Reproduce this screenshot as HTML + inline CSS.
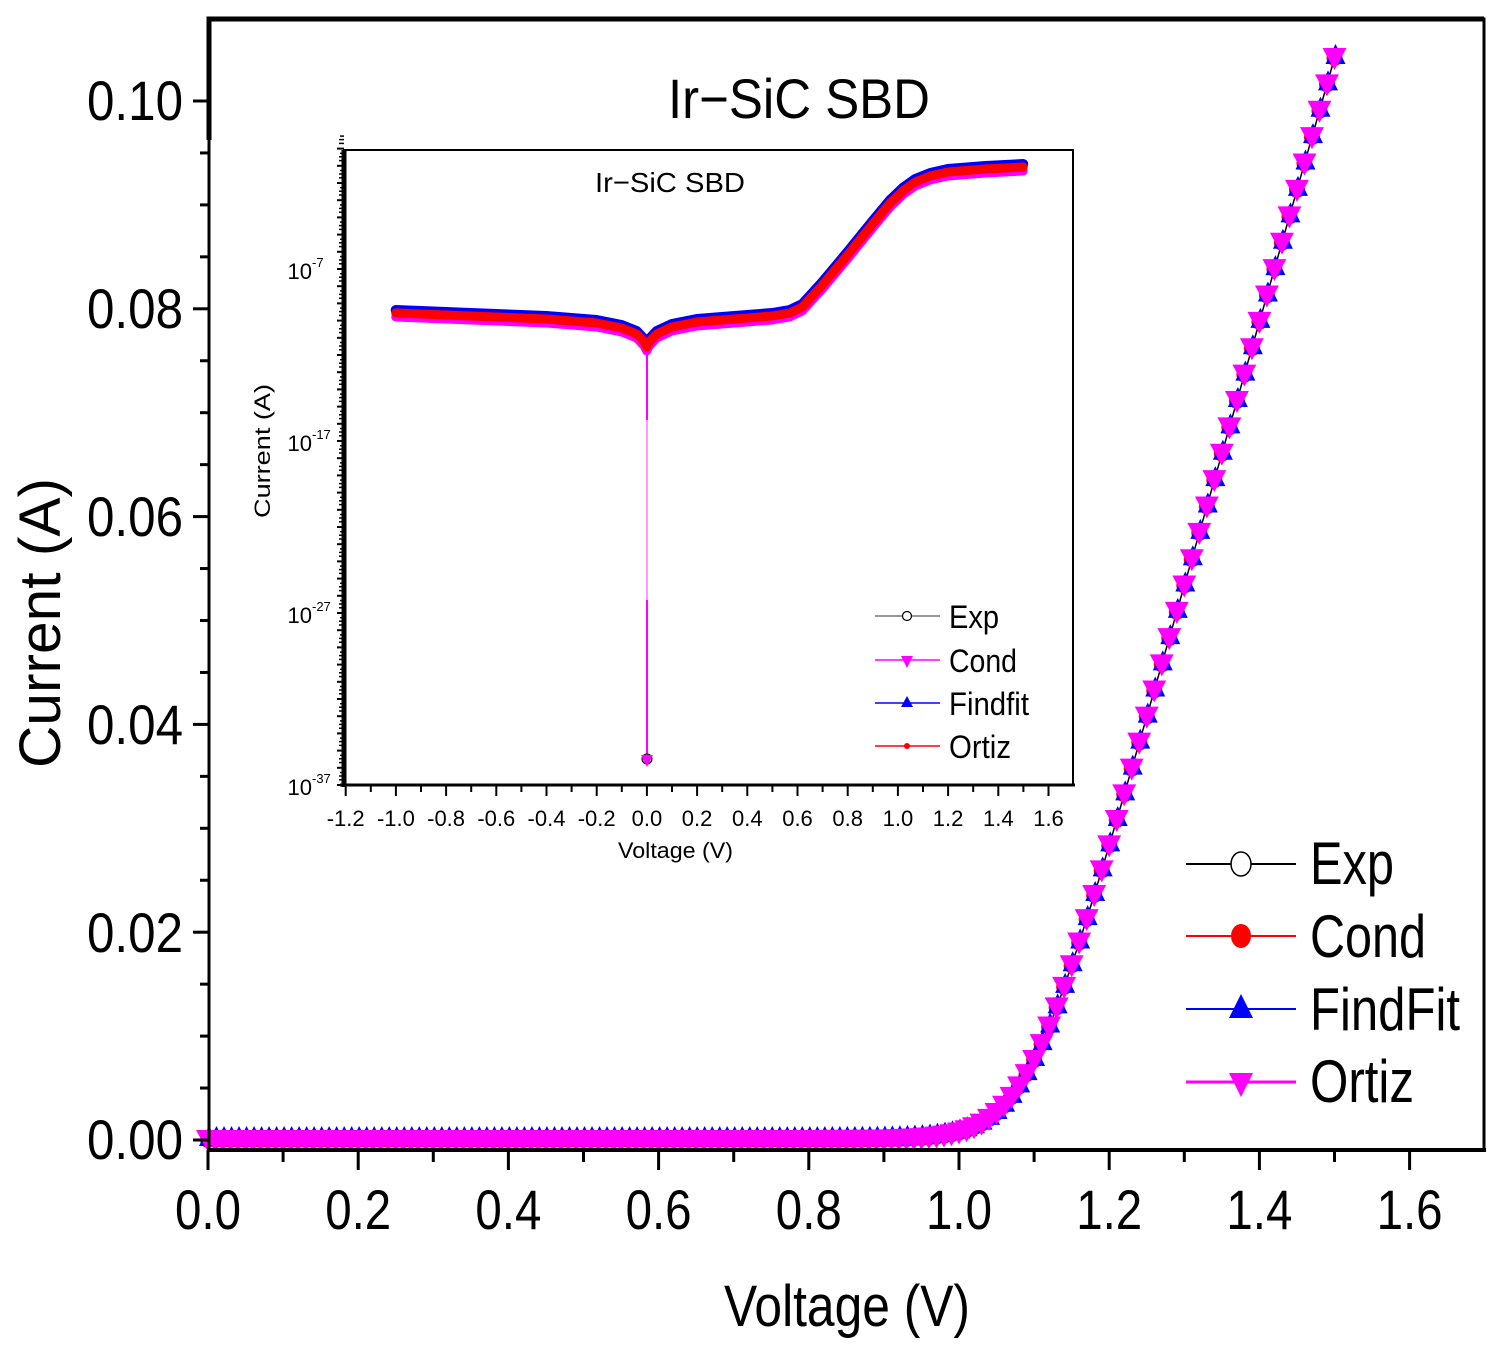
<!DOCTYPE html>
<html><head><meta charset="utf-8"><style>body{margin:0;background:#fff}svg{display:block}text{font-family:"Liberation Sans",sans-serif}</style></head>
<body>
<svg id="s" width="1502" height="1348" viewBox="0 0 1502 1348" xmlns="http://www.w3.org/2000/svg">
<rect width="1502" height="1348" fill="#fff"/>
<g id="main"></g>
<g id="inset"></g>
<path d="M209,1150 V19 H1484 V1150" fill="none" stroke="#000" stroke-width="3"/>
<path d="M209,140 V19 H1484" fill="none" stroke="#000" stroke-width="5"/>
<line x1="207" y1="1150" x2="1486" y2="1150" stroke="#000" stroke-width="4"/>
<g id="ticks"></g>
<g font-size="56">
<text x="183" y="120" text-anchor="end" textLength="96" lengthAdjust="spacingAndGlyphs">0.10</text>
<text x="183" y="328" text-anchor="end" textLength="96" lengthAdjust="spacingAndGlyphs">0.08</text>
<text x="183" y="536" text-anchor="end" textLength="96" lengthAdjust="spacingAndGlyphs">0.06</text>
<text x="183" y="744" text-anchor="end" textLength="96" lengthAdjust="spacingAndGlyphs">0.04</text>
<text x="183" y="952" text-anchor="end" textLength="96" lengthAdjust="spacingAndGlyphs">0.02</text>
<text x="183" y="1159" text-anchor="end" textLength="96" lengthAdjust="spacingAndGlyphs">0.00</text>
</g>
<g font-size="56" id="xl"></g>
<text x="668" y="118" font-size="56" textLength="262" lengthAdjust="spacingAndGlyphs">Ir−SiC SBD</text>
<text x="724" y="1326" font-size="58" textLength="246" lengthAdjust="spacingAndGlyphs">Voltage (V)</text>
<text transform="translate(60,768) rotate(-90)" font-size="58" textLength="290" lengthAdjust="spacingAndGlyphs">Current (A)</text>
<line x1="1186" y1="864" x2="1296" y2="864" stroke="#000" stroke-width="2"/>
<ellipse cx="1241" cy="864" rx="10" ry="12" fill="#fff" stroke="#000" stroke-width="1.5"/>
<line x1="1186" y1="936" x2="1296" y2="936" stroke="#f00" stroke-width="2"/>
<ellipse cx="1241" cy="936" rx="10" ry="12" fill="#f00"/>
<line x1="1186" y1="1009" x2="1296" y2="1009" stroke="#00f" stroke-width="2"/>
<polygon points="1241,994 1253,1018 1229,1018" fill="#00f"/>
<line x1="1186" y1="1082" x2="1296" y2="1082" stroke="#f0f" stroke-width="3"/>
<polygon points="1229,1073 1253,1073 1241,1097" fill="#f0f"/>
<g font-size="60">
<text x="1310" y="884" textLength="84" lengthAdjust="spacingAndGlyphs">Exp</text>
<text x="1310" y="957" textLength="116" lengthAdjust="spacingAndGlyphs">Cond</text>
<text x="1310" y="1030" textLength="150" lengthAdjust="spacingAndGlyphs">FindFit</text>
<text x="1310" y="1102" textLength="104" lengthAdjust="spacingAndGlyphs">Ortiz</text>
</g>
</svg>
<script>
const NS="http://www.w3.org/2000/svg";
function el(p,t,a){const e=document.createElementNS(NS,t);for(const k in a)e.setAttribute(k,a[k]);p.appendChild(e);return e;}
const main=document.getElementById('main'),ins=document.getElementById('inset'),tk=document.getElementById('ticks'),xl=document.getElementById('xl');
const X=v=>208+v*751, Y=i=>1140-i*10390;
function I(v){const w=0.036,v0=1.09,s=0.254;const z=(v-v0)/w;return s*w*(z>30?z:Math.log(1+Math.exp(z)));}
let pts=[];for(let k=0;k<=150;k++){const v=k/100;pts.push([X(v),Y(I(v))]);}
el(main,'polyline',{points:pts.map(p=>p.join(',')).join(' '),fill:'none',stroke:'#000','stroke-width':1.5});
for(const [x,y] of pts){el(main,'circle',{cx:x,cy:y,r:8,fill:'#f00'});}
for(const [x,y] of pts){el(main,'polygon',{points:`${x+1},${y-14} ${x+11},${y+6} ${x-9},${y+6}`,fill:'#00f'});}
for(const [x,y] of pts){el(main,'polygon',{points:`${x-12},${y-10} ${x+12},${y-10} ${x},${y+12}`,fill:'#f0f'});}
for(let k=0;k<=20;k++){const y=1140-k*51.95;const maj=k%4==0;el(tk,'line',{x1:maj?193:200,y1:y,x2:209,y2:y,stroke:'#000','stroke-width':3});}
for(let k=0;k<=16;k++){const x=208+k*75.1;const maj=k%2==0;el(tk,'line',{x1:x,y1:1150,x2:x,y2:maj?1170:1162,stroke:'#000','stroke-width':3});}
for(let k=0;k<=8;k++){const t=el(xl,'text',{x:208+k*150.2,y:1229,'text-anchor':'middle',textLength:66,lengthAdjust:'spacingAndGlyphs'});t.textContent=(k*0.2).toFixed(1);}
el(ins,'rect',{x:344,y:150,width:729,height:635,fill:'#fff'});
const IX=v=>646.7+v*251;
const cp=[[-1,313],[-0.7,316],[-0.4,319],[-0.2,323],[-0.1,328],[-0.04,334],[-0.01,342],[0,347],[0.01,342],[0.04,334],[0.1,327],[0.2,322],[0.35,319],[0.5,316],[0.57,313],[0.62,307],[0.7,285],[0.8,255],[0.9,224],[0.97,203],[1.02,191],[1.07,182],[1.13,176],[1.2,172],[1.35,169],[1.5,167]];
const cps=cp.map(p=>[IX(p[0]),p[1]]);
const pl=(dy,c,w)=>el(ins,'polyline',{points:cps.map(p=>p[0]+','+(p[1]+dy)).join(' '),fill:'none',stroke:c,'stroke-width':w,'stroke-linejoin':'round','stroke-linecap':'round'});
el(ins,'line',{x1:647,y1:350,x2:647,y2:758,stroke:'#f0f','stroke-width':2});
el(ins,'line',{x1:647,y1:420,x2:647,y2:600,stroke:'#f9f','stroke-width':2});
pl(4,'#f0f',9);pl(-3,'#00f',10);pl(0,'#f00',9);
el(ins,'circle',{cx:647,cy:759,r:5,fill:'#aaa',stroke:'#000'});
el(ins,'polygon',{points:'641,755 653,755 647,767',fill:'#f0f'});
el(ins,'path',{d:'M344,785 V150 H1073 V785',fill:'none',stroke:'#000','stroke-width':2});
el(ins,'line',{x1:344,y1:150,x2:344,y2:787,stroke:'#000','stroke-width':5});
el(ins,'line',{x1:340,y1:785,x2:1075,y2:785,stroke:'#000','stroke-width':3});
for(let d=0;d<=37;d++){const y=785-d*17.2;
 el(ins,'line',{x1:337,y1:y,x2:344,y2:y,stroke:'#000','stroke-width':2});
 el(ins,'line',{x1:339,y1:y-5.2,x2:344,y2:y-5.2,stroke:'#000','stroke-width':1.5});
 el(ins,'line',{x1:339,y1:y-9,x2:344,y2:y-9,stroke:'#000','stroke-width':1.5});
 el(ins,'line',{x1:340,y1:y-12.5,x2:344,y2:y-12.5,stroke:'#000','stroke-width':1.5});
}
for(let k=0;k<=28;k++){const x=345.7+k*25.1;const maj=k%2==0;el(ins,'line',{x1:x,y1:785,x2:x,y2:maj?796:792,stroke:'#000','stroke-width':2});
 if(maj){const v=-1.2+k*0.1;const t=el(ins,'text',{x:x,y:826,'text-anchor':'middle','font-size':22});t.textContent=(Math.abs(v)<1e-9?'0.0':v.toFixed(1));}}
[['-7',271],['-17',443],['-27',615],['-37',787]].forEach(([e,y])=>{const t=el(ins,'text',{x:312,y:y+8,'text-anchor':'end','font-size':22});t.textContent='10';const s=el(ins,'text',{x:312,y:y-4,'font-size':13});s.textContent=e;});
let t;
t=el(ins,'text',{x:595,y:192,'font-size':28,textLength:150,lengthAdjust:'spacingAndGlyphs'});t.textContent='Ir−SiC SBD';
t=el(ins,'text',{x:618,y:858,'font-size':22,textLength:115,lengthAdjust:'spacingAndGlyphs'});t.textContent='Voltage (V)';
t=el(ins,'text',{transform:'translate(270,518) rotate(-90)','font-size':22,textLength:134,lengthAdjust:'spacingAndGlyphs'});t.textContent='Current (A)';
const lg=[[616,'#777','Exp',50],[660,'#f0f','Cond',68],[703,'#00f','Findfit',80],[746,'#f00','Ortiz',62]];
lg.forEach(([y,c,n,w])=>{el(ins,'line',{x1:875,y1:y,x2:940,y2:y,stroke:c,'stroke-width':1.5});
 const tt=el(ins,'text',{x:949,y:y+12,'font-size':32,textLength:w,lengthAdjust:'spacingAndGlyphs'});tt.textContent=n;});
el(ins,'circle',{cx:907,cy:616,r:4.5,fill:'#fff',stroke:'#000','stroke-width':1.2});
el(ins,'polygon',{points:'901,656 913,656 907,668',fill:'#f0f'});
el(ins,'polygon',{points:'907,696 913,707 901,707',fill:'#00f'});
el(ins,'circle',{cx:907,cy:746,r:3,fill:'#f00'});
</script>
</body></html>
